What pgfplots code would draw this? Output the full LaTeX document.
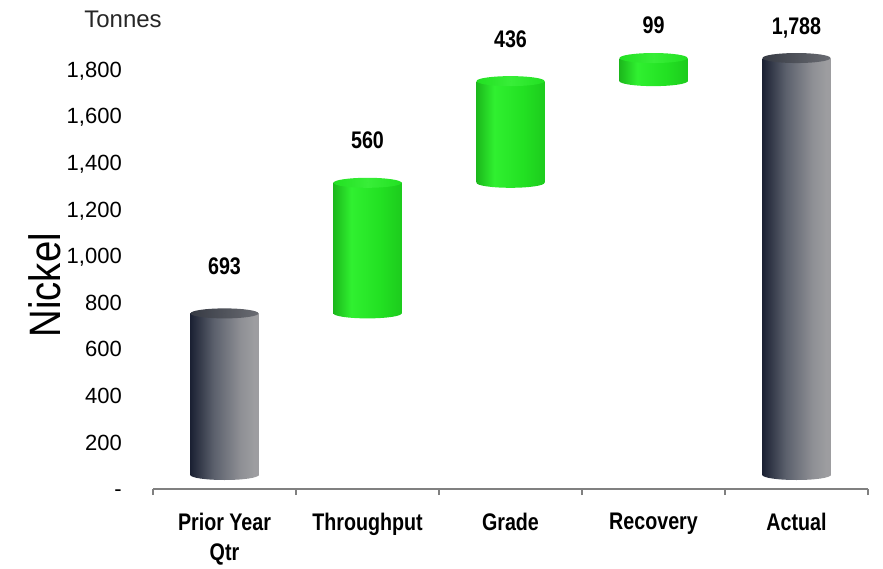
\documentclass[border=0pt]{standalone}
\usepackage{fontspec}
\setmainfont{Liberation Sans}
\newfontfamily\narrowbold{Liberation Sans Bold}[FakeStretch=0.82]
\newfontfamily\tallfont{Liberation Sans}[FakeStretch=0.87]
\usepackage{pgfplots}
\usepackage{pgfplotstable}
\pgfplotsset{compat=1.18}

% colours of the cylinders and the axis
\definecolor{cylnavy}{HTML}{1B2133}
\definecolor{cylmid}{HTML}{5B606C}
\definecolor{cyllight}{HTML}{8F9095}
\definecolor{cyledge}{HTML}{9D9DA0}
\definecolor{topdark}{HTML}{363A44}
\definecolor{toplight}{HTML}{6A6C72}
\definecolor{grnedge}{HTML}{1CB81C}
\definecolor{grnhigh}{HTML}{30F030}
\definecolor{grnmid}{HTML}{22E022}
\definecolor{grnright}{HTML}{1DCC1D}
\definecolor{grntop}{HTML}{38EE38}
\definecolor{axisgray}{HTML}{808080}

% left-to-right shadings (the path box maps onto 25bp..75bp)
\pgfdeclarehorizontalshading{grayshade}{100bp}{color(0bp)=(cylnavy); color(25bp)=(cylnavy); color(42bp)=(cylmid); color(62bp)=(cyllight); color(72bp)=(cyledge); color(100bp)=(cyledge)}
\pgfdeclarehorizontalshading{graytopshade}{100bp}{color(0bp)=(topdark); color(25bp)=(topdark); color(75bp)=(toplight); color(100bp)=(toplight)}
\pgfdeclarehorizontalshading{greenshade}{100bp}{color(0bp)=(grnedge); color(25bp)=(grnedge); color(38bp)=(grnhigh); color(60bp)=(grnmid); color(75bp)=(grnright); color(100bp)=(grnright)}
\pgfdeclarehorizontalshading{greentopshade}{100bp}{color(0bp)=(grnmid); color(25bp)=(grnmid); color(50bp)=(grntop); color(75bp)=(grnmid); color(100bp)=(grnmid)}

% elliptical end caps of the cylinders
\pgfdeclareplotmark{capgray}{%
  \pgfpathellipse{\pgfpointorigin}{\pgfqpoint{34pt}{0pt}}{\pgfqpoint{0pt}{5pt}}%
  \pgfshadepath{grayshade}{0}\pgfusepath{}}
\pgfdeclareplotmark{topgray}{%
  \pgfpathellipse{\pgfpointorigin}{\pgfqpoint{34pt}{0pt}}{\pgfqpoint{0pt}{5pt}}%
  \pgfshadepath{graytopshade}{0}\pgfusepath{}}
\pgfdeclareplotmark{capgreen}{%
  \pgfpathellipse{\pgfpointorigin}{\pgfqpoint{34pt}{0pt}}{\pgfqpoint{0pt}{5pt}}%
  \pgfshadepath{greenshade}{0}\pgfusepath{}}
\pgfdeclareplotmark{topgreen}{%
  \pgfpathellipse{\pgfpointorigin}{\pgfqpoint{34pt}{0pt}}{\pgfqpoint{0pt}{5pt}}%
  \pgfshadepath{greentopshade}{0}\pgfusepath{}}

% totals (start and end of the bridge)
\pgfplotstableread{
x  base  val
0  0     693
4  0     1788
}\totals
% changes between them
\pgfplotstableread{
x  base  delta  top
1  693   560    1253
2  1253  436    1689
3  1689  99     1788
}\steps
% value labels: position of the bar top, text, offset above it
\pgfplotstableread{
x  top   lab    off
0  693   693    47
1  1253  560    43
2  1689  436    42
3  1788  99     33
4  1788  1,788  32
}\labels

\pgfplotsset{
  cylframe/.style={scale only axis, width=715pt, height=466.4pt,
    xmin=-0.5, xmax=4.5, ymin=0, ymax=2000, clip=false, anchor=south west},
  cyllayer/.style={cylframe, hide axis, at={(153pt,93pt)}},
}

\begin{document}
\begin{tikzpicture}
\useasboundingbox (0,0) rectangle (883pt,568pt);

% frame: axis line, ticks and labels
\begin{axis}[cylframe, at={(153pt,79pt)},
  axis x line*=bottom, axis y line*=left,
  x axis line style={draw=axisgray, line width=1.6pt},
  y axis line style={draw=none},
  xtick={0,...,4},
  xticklabels={{Prior Year\\Qtr}, Throughput, Grade, Recovery, Actual},
  minor xtick={-0.5,0.5,1.5,2.5,3.5,4.5},
  tick align=outside, major tick length=0pt, minor tick length=6pt,
  minor tick style={draw=axisgray, line width=1.6pt},
  ytick={0,200,...,1800},
  yticklabels={-,200,400,600,800,{1,000},{1,200},{1,400},{1,600},{1,800}},
  ytick style={draw=none},
  yticklabel style={font=\fontsize{22}{24}\selectfont, anchor=east, inner sep=0pt,
    xshift=-31pt, text height=15.8pt, text depth=0pt},
  xticklabel style={font=\narrowbold\fontsize{24}{30}\selectfont, anchor=north,
    inner sep=0pt, align=center, yshift=-24pt},
  ylabel={Nickel},
  ylabel style={font=\tallfont\fontsize{44}{44}\selectfont,
    at={(axis description cs:-0.151,0.437)}, anchor=center},
]
\end{axis}

% grey total cylinders (one plot per bar so each gets its own shading)
% and the lower caps of the green ones
\begin{axis}[cyllayer]
\addplot[only marks, mark=capgray] table[x=x, y=base]{\totals};
\addplot[ybar, bar width=68pt, bar shift=0pt, draw=none, shade, shading=grayshade,
  restrict x to domain=-0.5:0.5] table[x=x, y=val]{\totals};
\addplot[ybar, bar width=68pt, bar shift=0pt, draw=none, shade, shading=grayshade,
  restrict x to domain=3.5:4.5] table[x=x, y=val]{\totals};
\addplot[only marks, mark=topgray] table[x=x, y=val]{\totals};
\addplot[only marks, mark=capgreen] table[x=x, y=base]{\steps};
\end{axis}

% floating green cylinders, one stacked layer each
\foreach \lo/\hi in {0.5/1.5, 1.5/2.5, 2.5/3.5}{
\begin{axis}[cyllayer, ybar stacked, bar width=68pt]
\addplot[draw=none, fill=none, restrict x to domain=\lo:\hi]
  table[x=x, y=base]{\steps};
\addplot[draw=none, shade, shading=greenshade, restrict x to domain=\lo:\hi]
  table[x=x, y=delta]{\steps};
\end{axis}
}

% green top caps and value labels
\begin{axis}[cyllayer]
\addplot[only marks, mark=topgreen] table[x=x, y=top]{\steps};
\addplot[only marks, mark=*, mark size=0pt, mark options={draw=none, fill=none},
  nodes near coords, point meta=explicit symbolic,
  visualization depends on={\thisrow{off} \as \off},
  nodes near coords style={anchor=center, yshift=\off pt, text=black, inner sep=0pt,
    text height=17pt, text depth=0pt, font=\narrowbold\fontsize{24}{24}\selectfont}]
  table[x=x, y=top, meta=lab]{\labels};
\end{axis}

\node[font=\fontsize{24}{24}\selectfont, text=black!85] at (123pt,549pt) {Tonnes};
\end{tikzpicture}
\end{document}
